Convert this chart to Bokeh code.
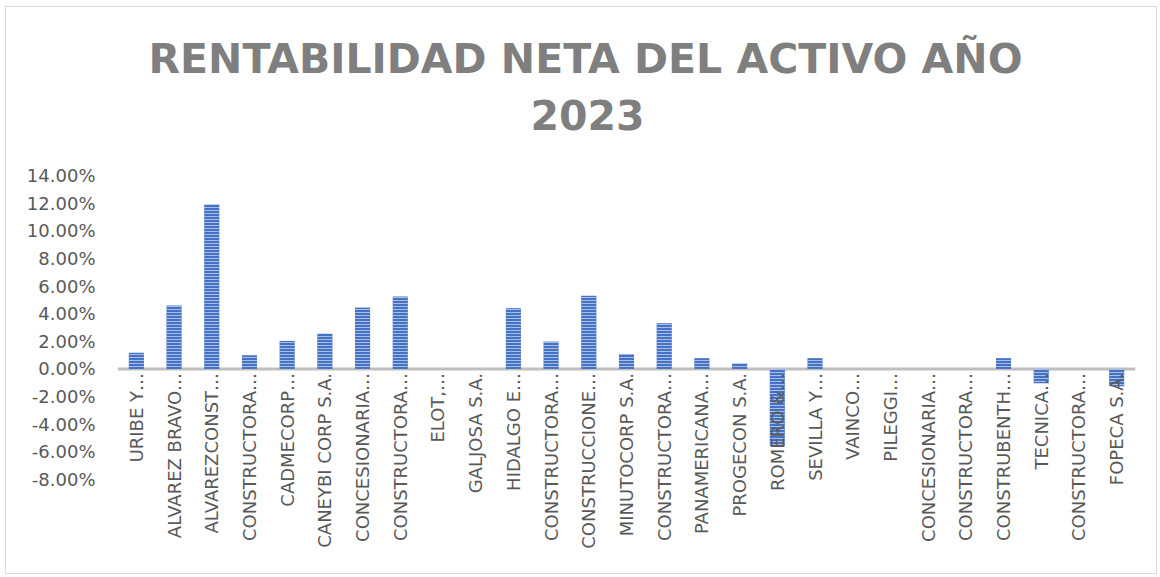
import math
from bokeh.plotting import figure
from bokeh.models import Range1d, FixedTicker, NumeralTickFormatter, Span, Title, ColumnDataSource
from bokeh.core.properties import value
from bokeh.embed import file_html
from bokeh.resources import INLINE

# ---- data ----
labels = ["URIBE Y…", "ALVAREZ BRAVO…", "ALVAREZCONST…", "CONSTRUCTORA…", "CADMECORP…",
          "CANEYBI CORP S.A.", "CONCESIONARIA…", "CONSTRUCTORA…", "ELOT,…", "GALJOSA S.A.",
          "HIDALGO E…", "CONSTRUCTORA…", "CONSTRUCCIONE…", "MINUTOCORP S.A.", "CONSTRUCTORA…",
          "PANAMERICANA…", "PROGECON S.A.", "ROMERO &…", "SEVILLA Y…", "VAINCO…",
          "PILEGGI…", "CONCESIONARIA…", "CONSTRUCTORA…", "CONSTRUBENTH…", "TECNICA…",
          "CONSTRUCTORA…", "FOPECA S.A."]
rentabilidad = [0.0118, 0.0459, 0.1188, 0.0099, 0.0203,
                0.0254, 0.0444, 0.0524, 0.0, 0.0,
                0.0440, 0.0198, 0.0529, 0.0106, 0.0331,
                0.0078, 0.0038, -0.0560, 0.0078, 0.0,
                0.0, 0.0, 0.0, 0.0078, -0.0104,
                0.0, -0.0125]
y_ticks = [-0.08, -0.06, -0.04, -0.02, 0.0, 0.02, 0.04, 0.06, 0.08, 0.10, 0.12, 0.14]
title_line1 = "RENTABILIDAD NETA DEL ACTIVO AÑO"
title_line2 = "2023"

idx = list(range(len(labels)))
src = ColumnDataSource(dict(x=idx, top=rentabilidad, lab=labels, zero=[0.0] * len(idx)))

W, H = 1152, 568
p = figure(width=W, height=H, output_backend="svg", toolbar_location=None,
           x_range=Range1d(-0.5, len(labels) - 0.5),
           y_range=Range1d(-0.1437, 0.14),
           min_border_left=111, min_border_right=23, min_border_top=168, min_border_bottom=8)
p.margin = (6, 0, 0, 5)
p.styles = {"border": "1px solid #d9d9d9"}
p.outline_line_color = None
p.xaxis.visible = False
p.xgrid.visible = False
p.ygrid.visible = False

# y axis
ya = p.yaxis[0]
ya.ticker = FixedTicker(ticks=y_ticks)
ya.formatter = NumeralTickFormatter(format="0.00%")
ya.axis_line_color = None
ya.major_tick_line_color = None
ya.minor_tick_line_color = None
ya.major_tick_out = 0
ya.major_tick_in = 0
ya.major_label_standoff = 22
ya.major_label_text_font = "DejaVu Sans"
ya.major_label_text_font_size = "18px"
ya.major_label_text_color = "#595959"

# zero line
p.add_layout(Span(location=0, dimension="width", line_color="#bfbfbf", line_width=3,
                  level="underlay"))

# bars
p.vbar(x="x", top="top", bottom=0, width=0.4, source=src,
       fill_color="#4472C4", line_color=None,
       hatch_pattern="horizontal_line", hatch_color="#a9bde6",
       hatch_scale=3, hatch_weight=1)

# category labels hanging below the zero line
p.text(x="x", y="zero", text="lab", source=src, angle=math.pi / 2,
       text_align="right", text_baseline="middle", y_offset=4,
       text_font=value("DejaVu Sans"), text_font_size="18px", text_color="#595959")

# titles (first added is closest to the plot frame)
spacer = Title(text=" ", text_font_size="1px", standoff=33, text_color="white")
t2 = Title(text=title_line2, align="left", offset=413, standoff=20,
           text_font="DejaVu Sans", text_font_size="41px", text_font_style="bold",
           text_color="#7f7f7f")
t1 = Title(text=title_line1, align="left", offset=31, standoff=10,
           text_font="DejaVu Sans", text_font_size="41px", text_font_style="bold",
           text_color="#7f7f7f")
p.add_layout(spacer, "above")
p.add_layout(t2, "above")
p.add_layout(t1, "above")

open("out.html", "w").write(file_html(p, INLINE))
